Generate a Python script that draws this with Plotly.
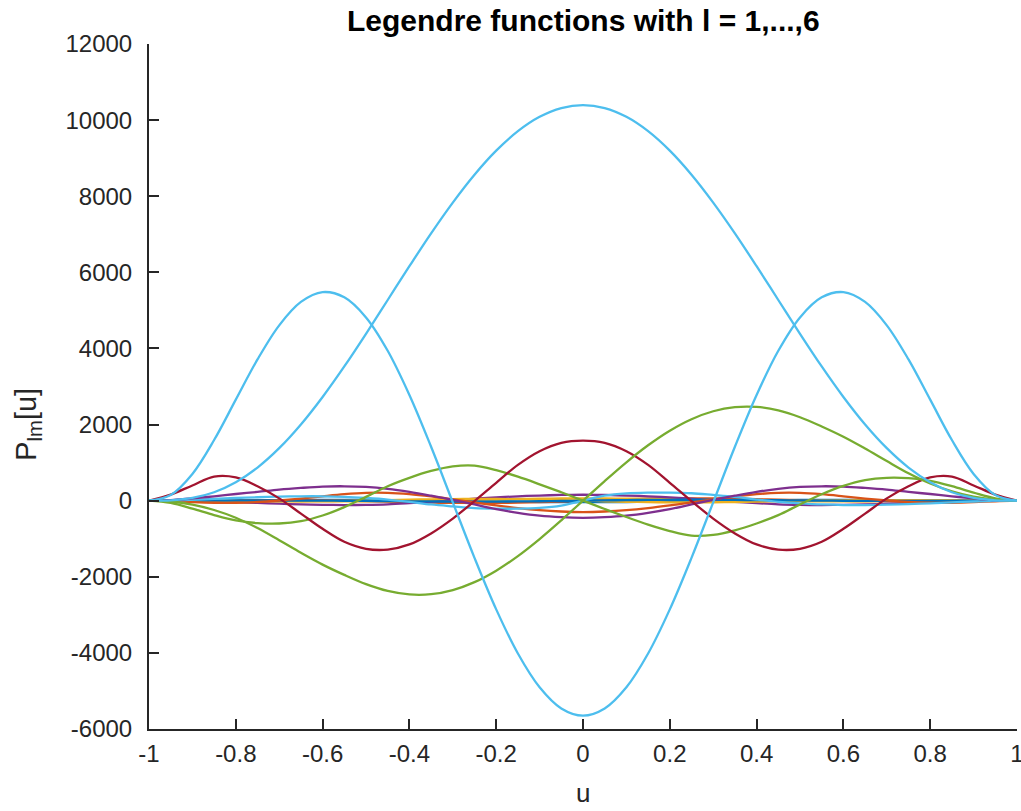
import plotly.graph_objects as go

# Sample positions on the u axis
u = [-1.0, -0.95, -0.9, -0.85, -0.8, -0.75, -0.7, -0.65, -0.6, -0.55, -0.5,
     -0.45, -0.4, -0.35, -0.3, -0.25, -0.2, -0.15, -0.1, -0.05, 0.0,
     0.05, 0.1, 0.15, 0.2, 0.25, 0.3, 0.35, 0.4, 0.45, 0.5,
     0.55, 0.6, 0.65, 0.7, 0.75, 0.8, 0.85, 0.9, 0.95, 1.0]

# Curve values P_lm[u]
blue_a = [0, 1, 2, 4, 7, 10, 13, 16, 18, 19, 18, 15, 10, 3, -5, -14, -22, -30, -35, -39, -40,
          -39, -35, -30, -22, -14, -5, 3, 10, 15, 18, 19, 18, 16, 13, 10, 7, 4, 2, 1, 0]
orange_a = [0, 1, 4, 7, 10, 12, 13, 12, 8, 0, -12, -25, -38, -50, -58, -62, -60, -52, -38, -20, 0,
            20, 38, 52, 60, 62, 58, 50, 38, 25, 12, 0, -8, -12, -13, -12, -10, -7, -4, -1, 0]
yellow_a = [0, -1, -2, -4, -7, -10, -13, -16, -18, -18, -15, -10, -3, 5, 15, 25, 35, 45, 52, 58, 60,
            58, 52, 45, 35, 25, 15, 5, -3, -10, -15, -18, -18, -16, -13, -10, -7, -4, -2, -1, 0]
purple_a = [0, -3, -12, -25, -40, -60, -80, -100, -110, -115, -110, -95, -65, -30, 10, 50, 85, 115, 135, 150, 155,
            150, 135, 115, 85, 50, 10, -30, -65, -95, -110, -115, -110, -100, -80, -60, -40, -25, -12, -3, 0]
yellow_b = [0, -1, -4, -7, -10, -13, -15, -15, -12, -6, 3, 14, 25, 35, 42, 45, 44, 38, 28, 15, 0,
            -15, -28, -38, -44, -45, -42, -35, -25, -14, -3, 6, 12, 15, 15, 13, 10, 7, 4, 1, 0]
blue_b = [0, 1, 2, 3, 4, 5, 5, 4, 2, -2, -6, -11, -16, -20, -23, -24, -23, -20, -15, -8, 0,
          8, 15, 20, 23, 24, 23, 20, 16, 11, 6, 2, -2, -4, -5, -5, -4, -3, -2, -1, 0]
orange_b = [0, -15, -40, -55, -55, -35, 5, 55, 115, 170, 205, 205, 170, 110, 35, -45, -125, -195, -250, -285, -300,
            -285, -250, -195, -125, -45, 35, 110, 170, 205, 205, 170, 115, 55, 5, -35, -55, -55, -40, -15, 0]
lightblue_a = [0, 5, 22, 45, 70, 90, 105, 115, 115, 100, 70, 30, -30, -100, -150, -195, -210, -210, -190, -130, 0,
               130, 190, 210, 210, 195, 150, 100, 30, -30, -70, -100, -115, -115, -105, -90, -70, -45, -22, -5, 0]
purple_b = [0, 15, 60, 115, 175, 230, 290, 335, 370, 378, 360, 310, 230, 130, 20, -100, -220, -320, -395, -435, -450,
            -435, -395, -320, -220, -100, 20, 130, 230, 310, 360, 378, 370, 335, 290, 230, 175, 115, 60, 15, 0]
green_a = [0, -60, -210, -380, -520, -590, -600, -540, -390, -170, 100, 380, 600, 780, 900, 920, 800, 630, 430, 220, 0,
           -220, -430, -630, -800, -920, -900, -780, -600, -380, -100, 170, 390, 540, 600, 590, 520, 380, 210, 60, 0]
darkred_a = [0, 160, 400, 630, 610, 380, 60, -340, -740, -1080, -1265, -1285, -1150, -860, -470, -10, 470, 940, 1300, 1520, 1580,
             1520, 1300, 940, 470, -10, -470, -860, -1150, -1285, -1265, -1080, -740, -340, 60, 380, 610, 630, 400, 160, 0]
green_b = [0, -22, -105, -245, -450, -720, -1040, -1370, -1680, -1950, -2193, -2373, -2464, -2458, -2350, -2141, -1839, -1456, -1009, -516, 0,
           516, 1009, 1456, 1839, 2141, 2350, 2458, 2464, 2373, 2193, 1950, 1680, 1370, 1040, 720, 450, 245, 105, 22, 0]
lightblue_b = [0, 150, 703, 1593, 2654, 3711, 4607, 5222, 5480, 5343, 4816, 3939, 2777, 1416, -45, -1503, -2857, -4017, -4904, -5460, -5650,
               -5460, -4904, -4017, -2857, -1503, -45, 1416, 2777, 3939, 4816, 5343, 5480, 5222, 4607, 3711, 2654, 1593, 703, 150, 0]
lightblue_c = [0, 10, 71, 222, 485, 870, 1379, 2002, 2725, 3527, 4385, 5273, 6161, 7024, 7833, 8565, 9197, 9709, 10086, 10317, 10395,
               10317, 10086, 9709, 9197, 8565, 7833, 7024, 6161, 5273, 4385, 3527, 2725, 2002, 1379, 870, 485, 222, 71, 10, 0]

x_ticks = [-1, -0.8, -0.6, -0.4, -0.2, 0, 0.2, 0.4, 0.6, 0.8, 1]
x_tick_text = ["-1", "-0.8", "-0.6", "-0.4", "-0.2", "0", "0.2", "0.4", "0.6", "0.8", "1"]
y_ticks = [-6000, -4000, -2000, 0, 2000, 4000, 6000, 8000, 10000, 12000]
y_tick_text = ["-6000", "-4000", "-2000", "0", "2000", "4000", "6000", "8000", "10000", "12000"]

BLUE = "#0072BD"
ORANGE = "#D95319"
YELLOW = "#EDB120"
PURPLE = "#7E2F8E"
GREEN = "#77AC30"
LIGHTBLUE = "#4DBEEE"
DARKRED = "#A2142F"

series = [
    (blue_a, BLUE), (orange_a, ORANGE), (yellow_a, YELLOW), (purple_a, PURPLE),
    (yellow_b, YELLOW), (blue_b, BLUE), (orange_b, ORANGE), (lightblue_a, LIGHTBLUE),
    (purple_b, PURPLE), (green_a, GREEN), (darkred_a, DARKRED), (green_b, GREEN),
    (lightblue_b, LIGHTBLUE), (lightblue_c, LIGHTBLUE),
]

fig = go.Figure()
for vals, col in series:
    fig.add_trace(go.Scatter(
        x=u, y=vals, mode="lines",
        line=dict(color=col, width=2.3, shape="spline", smoothing=1.0),
        showlegend=False, hoverinfo="skip",
    ))

AX = "#262626"
FONT = "Liberation Sans, Arial, Helvetica, sans-serif"

fig.update_layout(
    width=1021, height=811,
    margin=dict(l=149, r=4, t=44, b=82, autoexpand=False),
    paper_bgcolor="white", plot_bgcolor="white",
    font=dict(family=FONT, size=25, color=AX),
    showlegend=False,
)
fig.update_xaxes(
    range=[-1, 1], tickvals=x_ticks, ticktext=x_tick_text,
    showgrid=False, zeroline=False, showline=True, linecolor=AX, linewidth=2,
    ticks="inside", ticklen=10, tickwidth=2, tickcolor=AX,
    tickfont=dict(family=FONT, size=24, color=AX),
    ticklabeloverflow="allow", ticklabelstandoff=2, automargin=False,
)
fig.update_yaxes(
    range=[-6000, 12000], tickvals=y_ticks, ticktext=y_tick_text,
    showgrid=False, zeroline=False, showline=True, linecolor=AX, linewidth=2,
    ticks="inside", ticklen=10, tickwidth=2, tickcolor=AX,
    tickfont=dict(family=FONT, size=24, color=AX),
    ticklabelstandoff=10, automargin=False,
)

fig.add_annotation(
    text="<b>Legendre functions with l = 1,...,6</b>",
    xref="paper", yref="paper", x=0.5, y=1.0, yshift=24,
    xanchor="center", yanchor="middle", showarrow=False,
    font=dict(family=FONT, size=30, color="black"),
)
fig.add_annotation(
    text="u", xref="paper", yref="paper", x=0.5, y=0, yshift=-64,
    xanchor="center", yanchor="middle", showarrow=False,
    font=dict(family=FONT, size=26, color=AX),
)
fig.add_annotation(
    text="P<sub>lm</sub>[u]", xref="paper", yref="paper",
    x=0, xshift=-121, y=0.444, textangle=-90,
    xanchor="center", yanchor="middle", showarrow=False,
    font=dict(family=FONT, size=29, color=AX),
)

fig.write_html("out.html")
